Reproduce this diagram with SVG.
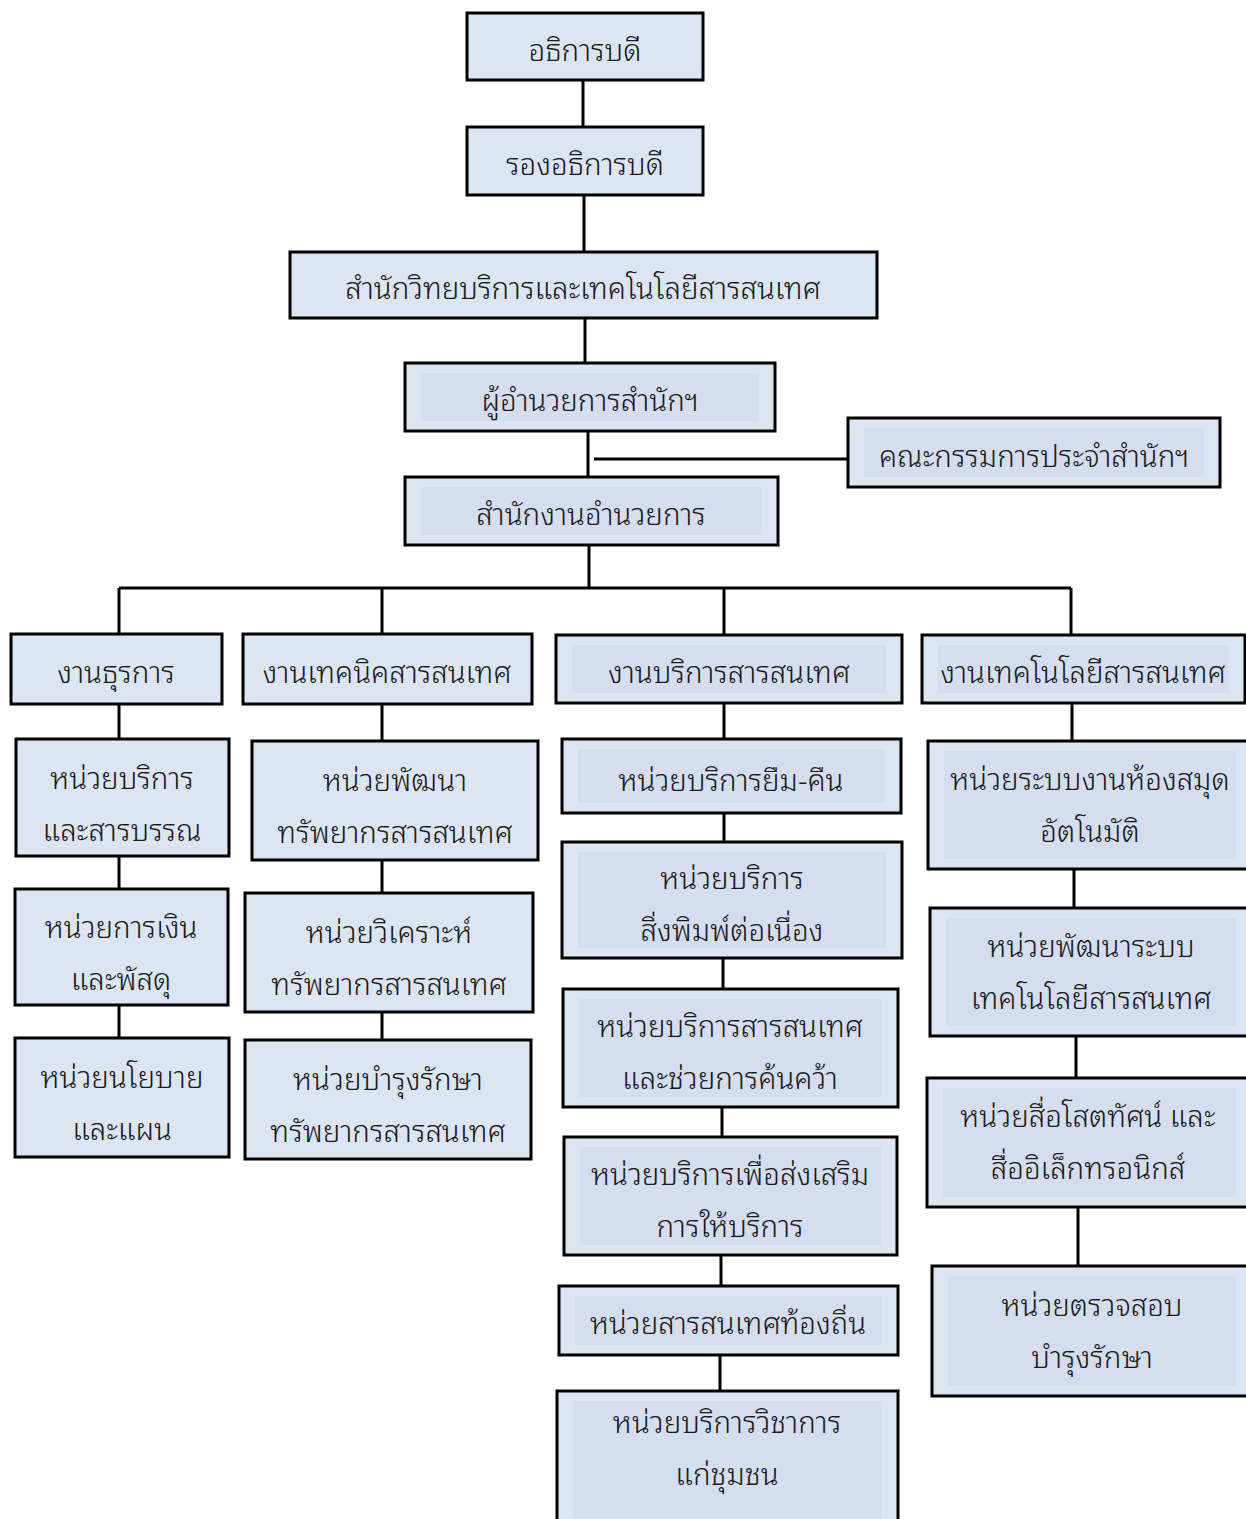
<svg xmlns="http://www.w3.org/2000/svg" width="1246" height="1519" viewBox="0 0 1246 1519">
<style>
.box{fill:#dce6f2;stroke:#000;stroke-width:3}
.inner{fill:#d4deef}
.t{font-family:"Noto Sans Thai Looped","Noto Sans Thai","Noto Sans","DejaVu Sans",sans-serif;font-size:29.5px;font-weight:300;fill:#1a1a1a;text-anchor:middle}
.c{stroke:#000;stroke-width:3;fill:none}
</style>
<rect width="1246" height="1519" fill="#fff"/>
<g id="connectors">
<path class="c" d="M583 80V127M584 195V252M585 318V363M588 431V477M594 459H848M589 545V588M119 588H1071M119 588V634M382 588V634M724 588V635M1071 588V635"/>
<path class="c" d="M119 704V739M119 856V889M119 1005V1038"/>
<path class="c" d="M382 704V741M382 860V893M382 1012V1040"/>
<path class="c" d="M724 703V739M724 813V842M723 958V989M722 1107V1137M721 1255V1286M720 1355V1391"/>
<path class="c" d="M1072 703V741M1074 869V908M1076 1036V1078M1078 1207V1266"/>
</g>
<g id="n1"><rect class="box" x="467" y="13" width="236" height="67"/><text class="t" x="585" y="61">อธิการบดี</text></g>
<g id="n2"><rect class="box" x="467" y="127" width="236" height="68"/><text class="t" x="585" y="175">รองอธิการบดี</text></g>
<g id="n3"><rect class="box" x="290" y="252" width="587" height="66"/><text class="t" x="583" y="299">สำนักวิทยบริการและเทคโนโลยีสารสนเทศ</text></g>
<g id="n4"><rect class="box" x="405" y="363" width="370" height="68"/><rect class="inner" x="421" y="373" width="338" height="48"/><text class="t" x="590" y="411">ผู้อำนวยการสำนักฯ</text></g>
<g id="n5"><rect class="box" x="405" y="477" width="373" height="68"/><rect class="inner" x="421" y="487" width="341" height="48"/><text class="t" x="591" y="525">สำนักงานอำนวยการ</text></g>
<g id="n6"><rect class="box" x="848" y="418" width="372" height="69"/><rect class="inner" x="864" y="428" width="340" height="49"/><text class="t" x="1034" y="467">คณะกรรมการประจำสำนักฯ</text></g>
<g id="n7"><rect class="box" x="11" y="634" width="211" height="70"/><text class="t" x="116" y="683">งานธุรการ</text></g>
<g id="n8"><rect class="box" x="243" y="634" width="289" height="70"/><text class="t" x="387" y="683">งานเทคนิคสารสนเทศ</text></g>
<g id="n9"><rect class="box" x="556" y="635" width="346" height="68"/><rect class="inner" x="572" y="645" width="314" height="48"/><text class="t" x="729" y="683">งานบริการสารสนเทศ</text></g>
<g id="n10"><rect class="box" x="922" y="635" width="323" height="68"/><rect class="inner" x="938" y="645" width="291" height="48"/><text class="t" x="1083" y="683">งานเทคโนโลยีสารสนเทศ</text></g>
<g id="c1a"><rect class="box" x="16" y="739" width="213" height="117"/><text class="t" x="122" y="789">หน่วยบริการ</text><text class="t" x="122" y="841">และสารบรรณ</text></g>
<g id="c1b"><rect class="box" x="15" y="889" width="213" height="116"/><text class="t" x="121" y="938">หน่วยการเงิน</text><text class="t" x="121" y="990">และพัสดุ</text></g>
<g id="c1c"><rect class="box" x="15" y="1038" width="214" height="119"/><text class="t" x="122" y="1088">หน่วยนโยบาย</text><text class="t" x="122" y="1140">และแผน</text></g>
<g id="c2a"><rect class="box" x="252" y="741" width="286" height="119"/><text class="t" x="395" y="791">หน่วยพัฒนา</text><text class="t" x="395" y="843">ทรัพยากรสารสนเทศ</text></g>
<g id="c2b"><rect class="box" x="245" y="893" width="288" height="119"/><text class="t" x="389" y="943">หน่วยวิเคราะห์</text><text class="t" x="389" y="995">ทรัพยากรสารสนเทศ</text></g>
<g id="c2c"><rect class="box" x="245" y="1040" width="286" height="119"/><text class="t" x="388" y="1090">หน่วยบำรุงรักษา</text><text class="t" x="388" y="1142">ทรัพยากรสารสนเทศ</text></g>
<g id="c3a"><rect class="box" x="562" y="739" width="339" height="74"/><rect class="inner" x="578" y="749" width="307" height="54"/><text class="t" x="731" y="791">หน่วยบริการยืม-คืน</text></g>
<g id="c3b"><rect class="box" x="562" y="842" width="340" height="116"/><rect class="inner" x="578" y="852" width="308" height="96"/><text class="t" x="732" y="889">หน่วยบริการ</text><text class="t" x="732" y="941">สิ่งพิมพ์ต่อเนื่อง</text></g>
<g id="c3c"><rect class="box" x="563" y="989" width="335" height="118"/><rect class="inner" x="579" y="999" width="303" height="98"/><text class="t" x="730" y="1037">หน่วยบริการสารสนเทศ</text><text class="t" x="730" y="1089">และช่วยการค้นคว้า</text></g>
<g id="c3d"><rect class="box" x="564" y="1137" width="333" height="118"/><rect class="inner" x="580" y="1147" width="301" height="98"/><text class="t" x="730" y="1185">หน่วยบริการเพื่อส่งเสริม</text><text class="t" x="730" y="1237">การให้บริการ</text></g>
<g id="c3e"><rect class="box" x="559" y="1286" width="339" height="69"/><rect class="inner" x="575" y="1296" width="307" height="49"/><text class="t" x="728" y="1334">หน่วยสารสนเทศท้องถิ่น</text></g>
<g id="c3f"><rect class="box" x="557" y="1391" width="341" height="140"/><rect class="inner" x="573" y="1401" width="309" height="120"/><text class="t" x="727" y="1433">หน่วยบริการวิชาการ</text><text class="t" x="727" y="1485">แก่ชุมชน</text></g>
<g id="c4a"><rect class="box" x="928" y="741" width="324" height="128"/><rect class="inner" x="944" y="751" width="292" height="108"/><text class="t" x="1090" y="790">หน่วยระบบงานห้องสมุด</text><text class="t" x="1090" y="842">อัตโนมัติ</text></g>
<g id="c4b"><rect class="box" x="930" y="908" width="322" height="128"/><rect class="inner" x="946" y="918" width="290" height="108"/><text class="t" x="1091" y="957">หน่วยพัฒนาระบบ</text><text class="t" x="1091" y="1009">เทคโนโลยีสารสนเทศ</text></g>
<g id="c4c"><rect class="box" x="927" y="1078" width="325" height="129"/><rect class="inner" x="943" y="1088" width="293" height="109"/><text class="t" x="1088" y="1127">หน่วยสื่อโสตทัศน์ และ</text><text class="t" x="1088" y="1179">สื่ออิเล็กทรอนิกส์</text></g>
<g id="c4d"><rect class="box" x="932" y="1266" width="320" height="130"/><rect class="inner" x="948" y="1276" width="288" height="110"/><text class="t" x="1092" y="1316">หน่วยตรวจสอบ</text><text class="t" x="1092" y="1368">บำรุงรักษา</text></g>
</svg>
